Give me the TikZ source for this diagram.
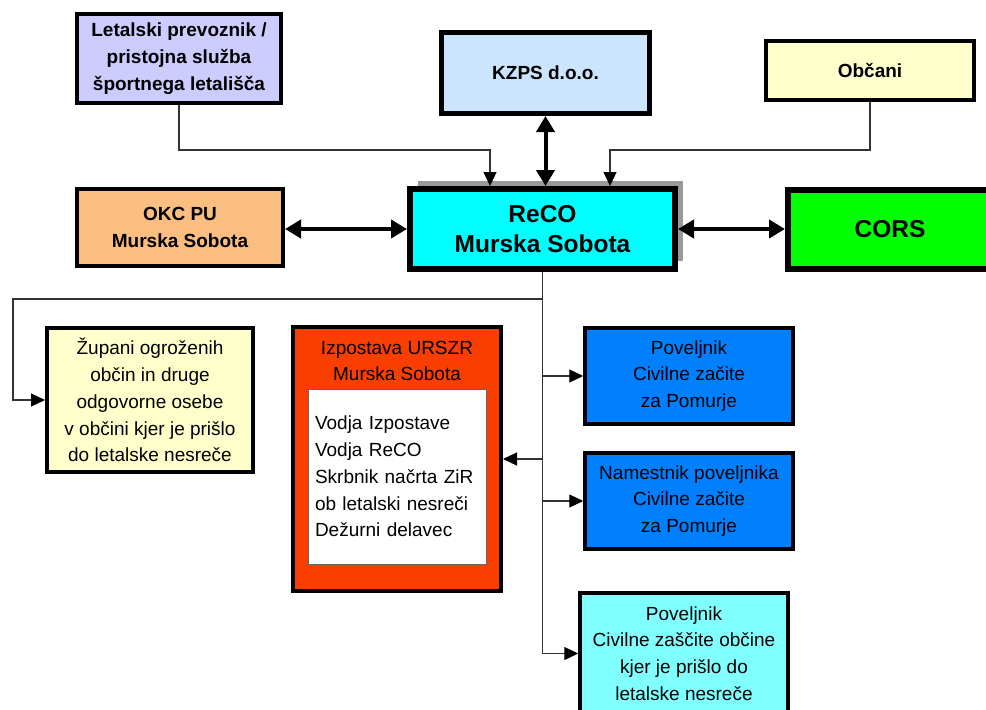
\documentclass[tikz,border=0pt]{standalone}
\usepackage{fontspec}
\setmainfont{Liberation Sans}
\usetikzlibrary{arrows.meta,shadows}
\definecolor{lav}{RGB}{204,204,255}
\definecolor{kz}{RGB}{204,229,255}
\definecolor{ylw}{RGB}{255,255,204}
\definecolor{okcc}{RGB}{250,190,128}
\definecolor{recoc}{RGB}{0,255,255}
\definecolor{corsc}{RGB}{0,255,0}
\definecolor{izpc}{RGB}{250,62,0}
\definecolor{povc}{RGB}{0,128,255}
\definecolor{povoc}{RGB}{128,255,255}
\begin{document}
\begin{tikzpicture}[x=1pt,y=-1pt,
  box/.style={draw=black,rectangle,inner sep=2pt,align=center,
    font=\fontsize{19}{26.8}\selectfont},
  boldbox/.style={box,font=\fontsize{19}{26.8}\selectfont\bfseries},
  bigbox/.style={box,line width=6pt,font=\fontsize{24.5}{30}\selectfont\bfseries},
  conn/.style={draw=black!80,line width=1.2pt},
  thintip/.style={-{Triangle[length=14pt,width=13pt,fill=black,color=black]}},
  thickline/.style={draw=black,line width=4pt},
  bothtips/.style={{Triangle[length=16pt,width=18pt]}-{Triangle[length=16pt,width=18pt]}}
]
\useasboundingbox (0,0) rectangle (986,710);
\clip (0,0) rectangle (986,710);

\node[boldbox,line width=4pt,fill=lav,minimum width=204pt,minimum height=89pt] (let) at (179,58.5)
  {Letalski prevoznik /\\pristojna služba\\športnega letališča};
\node[boldbox,line width=5pt,fill=kz,minimum width=208pt,minimum height=81pt] (kzps) at (545.5,73) {KZPS d.o.o.};
\node[boldbox,line width=4pt,fill=ylw,minimum width=208pt,minimum height=59pt] (obc) at (870,70.5) {Občani};
\node[bigbox,fill=recoc,minimum width=265pt,minimum height=80pt,
  drop shadow={shadow xshift=8pt,shadow yshift=8pt,fill=black!40,opacity=1}] (reco) at (542.5,229)
  {ReCO\\Murska Sobota};
\node[boldbox,line width=4pt,fill=okcc,minimum width=206pt,minimum height=77pt] (okc) at (180,227.5)
  {OKC PU\\Murska Sobota};
\node[bigbox,fill=corsc,minimum width=204pt,minimum height=79pt] (cors) at (890,229.5) {CORS};
\node[box,line width=4pt,fill=ylw,minimum width=206pt,minimum height=144pt] (zup) at (150,400)
  {Župani ogroženih\\občin in druge\\odgovorne osebe\\v občini kjer je prišlo\\do letalske nesreče};
\node[box,line width=4pt,fill=izpc,minimum width=208pt,minimum height=264pt] (izp) at (397,459) {};
\node[align=center,inner sep=0pt,font=\fontsize{19}{26.8}\selectfont] (izph) at (397,361)
  {Izpostava URSZR\\Murska Sobota};
\node[draw=black!60,line width=0.8pt,fill=white,align=left,text width=164pt,inner xsep=7pt,inner ysep=0pt,
  minimum height=175pt,font=\fontsize{19}{26.8}\selectfont] (izpi) at (397,476.5)
  {Vodja Izpostave\\Vodja ReCO\\Skrbnik načrta ZiR\\ob letalski nesreči\\Dežurni delavec};
\node[box,line width=3.5pt,fill=povc,minimum width=208pt,minimum height=96pt] (pov1) at (689,376)
  {Poveljnik\\Civilne začite\\za Pomurje};
\node[box,line width=3.5pt,fill=povc,minimum width=208pt,minimum height=96pt] (nam) at (689,501)
  {Namestnik poveljnika\\Civilne začite\\za Pomurje};
\node[box,line width=3.5pt,fill=povoc,minimum width=208pt,minimum height=121pt] (povo) at (684,653.5)
  {Poveljnik\\Civilne zaščite občine\\kjer je prišlo do\\letalske nesreče};

% top connectors
\draw[conn,thintip] (let.south) |- (490,150) -- ([xshift=-52.5pt]reco.north);
\draw[conn,thintip] (obc.south) |- (610,150) -- ([xshift=67.5pt]reco.north);
\draw[thickline,bothtips] (kzps.south) -- (kzps.south |- reco.north);
\draw[thickline,bothtips] (reco.west -| okc.east) -- (reco.west);
\draw[thickline,bothtips] (reco.east) -- (reco.east -| cors.west);

% bottom connectors
\draw[conn,thintip] (reco.south) |- (13,299) |- (zup.west);
\draw[conn] (reco.south) -- (reco.south |- povo.west);
\draw[conn,thintip] (pov1.west -| reco.south) -- (pov1.west);
\draw[conn,thintip] (nam.west -| reco.south) -- (nam.west);
\draw[conn,thintip] (povo.west -| reco.south) -- (povo.west);
\draw[conn,thintip] (izp.east -| reco.south) -- (izp.east);
\end{tikzpicture}
\end{document}
